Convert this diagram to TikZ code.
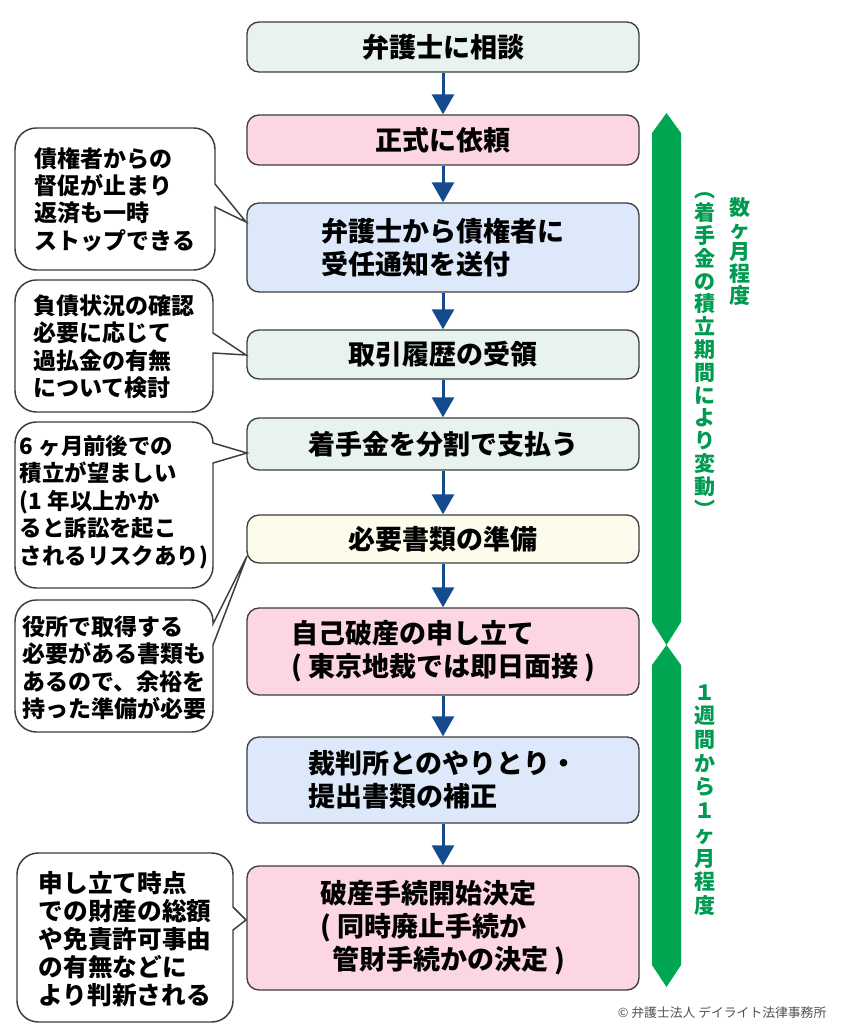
\documentclass[tikz,border=0pt]{standalone}
\usepackage{fontspec}
\setmainfont{Noto Sans CJK JP}
\usetikzlibrary{arrows.meta}

\definecolor{boxline}{RGB}{60,60,60}
\definecolor{paleteal}{RGB}{232,243,238}
\definecolor{palepink}{RGB}{252,214,226}
\definecolor{paleblue}{RGB}{221,233,250}
\definecolor{palecream}{RGB}{253,252,236}
\definecolor{arrowblue}{RGB}{20,75,140}
\definecolor{bargreen}{RGB}{0,166,81}
\definecolor{textgreen}{RGB}{0,154,80}
\definecolor{creditgray}{RGB}{80,80,80}

\tikzset{
  stepbox/.style={draw=boxline, line width=1pt, rounded corners=9pt,
    minimum width=294pt, inner sep=0pt, align=left,
    font=\bfseries\fontsize{20.25}{24.75}\selectfont},
  flowarrow/.style={draw=arrowblue, line width=2.25pt,
    -{Triangle[width=16.5pt,length=15pt]}},
  balloon/.style={draw=boxline, fill=white, line width=1.1pt, rounded corners=16pt},
  balloontext/.style={inner sep=0pt, align=left,
    font=\bfseries\fontsize{17.25}{20.6}\selectfont},
  periodbar/.style={fill=bargreen},
  periodtext/.style={text=textgreen, inner sep=0pt, align=center,
    font=\bfseries\fontsize{15.75}{16.5}\selectfont},
}

\begin{document}
\begin{tikzpicture}[x=0.75pt, y=-0.75pt]
\useasboundingbox (0,0) rectangle (850,1034);

% flow steps
\node[stepbox, fill=paleteal,  minimum height=37.5pt]  (consult)  at (443,47)    {弁護士に相談};
\node[stepbox, fill=palepink,  minimum height=37.5pt]  (request)  at (443,140)   {正式に依頼};
\node[stepbox, fill=paleblue,  minimum height=66.75pt] (notice)   at (443,247.5) {弁護士から債権者に\\受任通知を送付};
\node[stepbox, fill=paleteal,  minimum height=36.75pt] (history)  at (443,354.5) {取引履歴の受領};
\node[stepbox, fill=paleteal,  minimum height=39pt]    (fee)      at (443,444)   {着手金を分割で支払う};
\node[stepbox, fill=palecream, minimum height=36pt]    (papers)   at (443,539)   {必要書類の準備};
\node[stepbox, fill=palepink,  minimum height=65.25pt] (petition) at (443,651.5) {自己破産の申し立て\\( 東京地裁では即日面接 )};
\node[stepbox, fill=paleblue,  minimum height=64.5pt]  (court)    at (443,780)   {裁判所とのやりとり・\\提出書類の補正};
\node[stepbox, fill=palepink,  minimum height=93pt]    (decision) at (443,928)   {破産手続開始決定\\( 同時廃止手続か\\\hspace{0.45em}管財手続かの決定 )};

\draw[flowarrow] (consult)  -- (request);
\draw[flowarrow] (request)  -- (notice);
\draw[flowarrow] (notice)   -- (history);
\draw[flowarrow] (history)  -- (fee);
\draw[flowarrow] (fee)      -- (papers);
\draw[flowarrow] (papers)   -- (petition);
\draw[flowarrow] (petition) -- (court);
\draw[flowarrow] (court)    -- (decision);

% speech balloons
\draw[balloon] (15,128) -- (215,128) [sharp corners] -- (215,184) -- (246,222) -- (215,207) [rounded corners=16pt] -- (215,270) -- (15,270) -- cycle;
\node[balloontext] (note1) at (115,199.5) {債権者からの\\督促が止まり\\返済も一時\\ストップできる};

\draw[balloon] (15,280) -- (213,280) [sharp corners] -- (213,333) -- (246,355) -- (213,353) [rounded corners=16pt] -- (213,412) -- (15,412) -- cycle;
\node[balloontext] (note2) at (114,347) {負債状況の確認\\必要に応じて\\過払金の有無\\について検討};

\draw[balloon] (15,422) -- (213,422) [sharp corners] -- (213,443) -- (247,453) -- (213,463) [rounded corners=16pt] -- (213,588) -- (15,588) -- cycle;
\node[balloontext, font=\bfseries\fontsize{16.8}{20.6}\selectfont] (note3) at (114,502) {6 ヶ月前後での\\積立が望ましい\\(1 年以上かか\\ると訴訟を起こ\\されるリスクあり)};

\draw[balloon] (15,600) -- (213,600) [sharp corners] -- (213,624) -- (247,556) -- (213,645) [rounded corners=16pt] -- (213,732) -- (15,732) -- cycle;
\node[balloontext] (note4) at (114,668) {役所で取得する\\必要がある書類も\\あるので、余裕を\\持った準備が必要};

\draw[balloon] (17,853) -- (233,853) [sharp corners] -- (233,907) -- (246,920) -- (233,930) [rounded corners=16pt] -- (233,1022) -- (17,1022) -- cycle;
\node[balloontext, font=\bfseries\fontsize{18.5}{21}\selectfont] (note5) at (125,939) {申し立て時点\\での財産の総額\\や免責許可事由\\の有無などに\\より判新される};

% period bars
\fill[periodbar] (666.5,113) -- (681,133) -- (681,622) -- (666.5,645) -- (652,622) -- (652,133) -- cycle;
\fill[periodbar] (666.5,645) -- (681,665) -- (681,965) -- (666.5,987) -- (652,965) -- (652,665) -- cycle;

\node[periodtext] (months)  at (740,252) {数\\ヶ\\月\\程\\度};
\node[periodtext, font=\bfseries\fontsize{15.75}{17.1}\selectfont] (depends) at (705,355) {︵\\着\\手\\金\\の\\積\\立\\期\\間\\に\\よ\\り\\変\\動\\︶};
\node[periodtext, font=\bfseries\fontsize{15.75}{17.8}\selectfont] (weeks) at (705,800) {１\\週\\間\\か\\ら\\１\\ヶ\\月\\程\\度};

\node[text=creditgray, font=\fontsize{9.6}{11}\selectfont, anchor=east] (credit) at (831,1013) {© 弁護士法人 デイライト法律事務所};
\end{tikzpicture}
\end{document}
